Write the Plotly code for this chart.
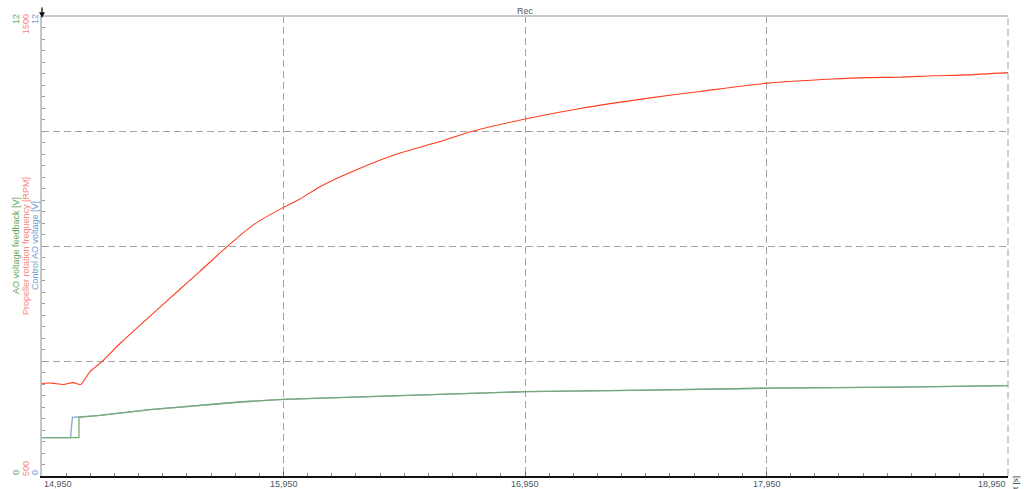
import plotly.graph_objects as go

# ---------------- data ----------------
rpm_t = [14.950, 14.990, 15.038, 15.079, 15.110, 15.149, 15.197, 15.273, 15.356, 15.439,
         15.521, 15.604, 15.715, 15.825, 15.950, 16.018, 16.101, 16.267, 16.432, 16.598,
         16.722, 16.950, 17.178, 17.454, 17.675, 17.953, 18.225, 18.365, 18.503, 18.640,
         18.780, 18.950]
rpm = [701, 702, 699, 703, 699, 727, 748, 788, 828, 867,
       906, 945, 998, 1046, 1084, 1102, 1129, 1169, 1202, 1227,
       1248, 1276, 1299, 1321, 1336, 1354, 1363, 1366, 1367, 1370,
       1372, 1377]

fb_t = [14.950, 15.103, 15.103, 15.190, 15.397, 15.604, 15.770, 15.948, 16.432, 16.954,
        17.468, 17.952, 18.503, 18.950]
fb_v = [1.00, 1.00, 1.53, 1.58, 1.73, 1.84, 1.93, 2.00, 2.09, 2.20,
        2.24, 2.29, 2.32, 2.36]

ctl_t = [14.950, 15.068, 15.076, 15.103, 15.190, 15.397, 15.604, 15.770, 15.948, 16.432,
         16.954, 17.468, 17.952, 18.503, 18.950]
ctl_v = [1.00, 1.00, 1.53, 1.54, 1.58, 1.73, 1.84, 1.93, 2.00, 2.09,
         2.20, 2.24, 2.29, 2.32, 2.36]

x_ticks = [14.95, 15.95, 16.95, 17.95, 18.95]
x_tick_labels = ["14,950", "15,950", "16,950", "17,950", "18,950"]

# ---------------- layout geometry ----------------
W, H = 1024, 489
L, R, T, B = 42, 16, 16, 13
PW, PH = W - L - R, H - T - B


def px(xp):
    return (xp - L) / PW


def py(yp):
    return (H - B - yp) / PH


FONT = "Liberation Sans, Arial, sans-serif"
GREEN_T = "#62a85a"
RED_T = "#f2887a"
BLUE_T = "#6a9ed6"

fig = go.Figure()
fig.add_trace(go.Scatter(x=ctl_t, y=ctl_v, mode="lines",
                         line=dict(color="#84a8d2", width=1.3),
                         name="Control AO voltage [V]", yaxis="y"))
fig.add_trace(go.Scatter(x=fb_t, y=fb_v, mode="lines",
                         line=dict(color="#78aa74", width=1.3),
                         name="AO voltage feedback [V]", yaxis="y"))
fig.add_trace(go.Scatter(x=rpm_t, y=rpm, mode="lines",
                         line=dict(color="#ff3d1c", width=1.1, shape="spline", smoothing=0.7),
                         name="Propeller rotation frequency [RPM]", yaxis="y2"))

grid = dict(showgrid=True, gridcolor="#a3a3a3", gridwidth=1, griddash="7px,4px")

fig.update_layout(
    width=W, height=H,
    margin=dict(l=L, r=R, t=T, b=B, pad=0),
    paper_bgcolor="white", plot_bgcolor="white",
    showlegend=False,
    font=dict(family=FONT, size=9),
    xaxis=dict(range=[14.95, 18.95], tickvals=x_ticks, showticklabels=False,
               zeroline=False, showline=True, linecolor="#111111", linewidth=2,
               ticks="inside", ticklen=4, tickcolor="#666666",
               minor=dict(dtick=0.1, tick0=14.95, ticks="inside", ticklen=3,
                          tickcolor="#888888", showgrid=False),
               **grid),
    yaxis=dict(range=[0, 12], tickvals=[0, 3, 6, 9, 12], showticklabels=False,
               zeroline=False, showline=True, linecolor="#c4c4c4", linewidth=2,
               ticks="inside", ticklen=3, tickcolor="#999999",
               minor=dict(dtick=0.3, tick0=0, ticks="inside", ticklen=3,
                          tickcolor="#999999", showgrid=False),
               **grid),
    yaxis2=dict(range=[500, 1500], overlaying="y", visible=False),
)

# top border
fig.add_shape(type="line", xref="paper", yref="paper", x0=0, x1=1, y0=1, y1=1,
              line=dict(color="#c8c8c8", width=2))
# right edge dashed grid line
fig.add_shape(type="line", xref="paper", yref="paper", x0=1, x1=1, y0=0, y1=1,
              line=dict(color="#a3a3a3", width=1, dash="7px,4px"))

ann = []
# title
ann.append(dict(text="Rec", x=px(525), y=py(11), xref="paper", yref="paper",
                showarrow=False, font=dict(size=9, color="#555555"),
                xanchor="center", yanchor="middle"))
# x tick labels
for i, (v, lab) in enumerate(zip(x_ticks, x_tick_labels)):
    if i == 0:
        xa = "left"
    elif i == len(x_ticks) - 1:
        xa = "right"
    else:
        xa = "center"
    ann.append(dict(text=lab, x=v, xref="x", y=py(484), yref="paper",
                    showarrow=False, xanchor=xa, yanchor="middle",
                    font=dict(size=9, color="#4a5666")))
# x axis unit
ann.append(dict(text="t [s]", x=px(1015), y=py(483), xref="paper", yref="paper",
                showarrow=False, textangle=-90, xanchor="center", yanchor="middle",
                font=dict(size=8, color="#333333")))
# y axis titles
for txt, xp, col in [("AO voltage feedback [V]", 16, GREEN_T),
                     ("Propeller rotation frequency [RPM]", 26, RED_T),
                     ("Control AO voltage [V]", 35, BLUE_T)]:
    ann.append(dict(text=txt, x=px(xp), y=0.5, xref="paper", yref="paper",
                    showarrow=False, textangle=-90, xanchor="center", yanchor="middle",
                    font=dict(size=9, color=col)))
# y tick labels (top and bottom)
for txt, xp, yp, col in [("12", 16, 19, GREEN_T), ("1500", 26, 24, RED_T), ("12", 35, 19, BLUE_T),
                         ("0", 16, 473, GREEN_T), ("500", 26, 469, RED_T), ("0", 35, 473, BLUE_T)]:
    ann.append(dict(text=txt, x=px(xp), y=py(yp), xref="paper", yref="paper",
                    showarrow=False, textangle=-90, xanchor="center", yanchor="middle",
                    font=dict(size=9, color=col)))
# small arrow marker at the top of the y axis
ann.append(dict(text="", x=0, y=py(18), xref="paper", yref="paper",
                showarrow=True, ax=0, ay=-12, arrowhead=2, arrowsize=0.9,
                arrowwidth=1.3, arrowcolor="#111111"))

fig.update_layout(annotations=ann)

fig.write_html("out.html", config={"displayModeBar": False},
               post_script="document.body.style.margin='0';")
